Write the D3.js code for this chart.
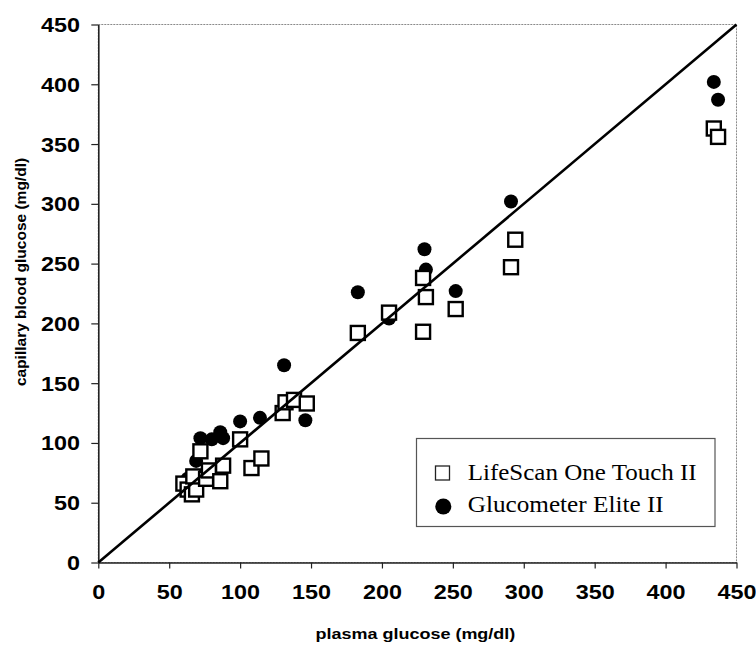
<!DOCTYPE html>
<html>
<head>
<meta charset="utf-8">
<script src="https://cdn.jsdelivr.net/npm/d3@7"></script>
<style>
  html, body { margin: 0; padding: 0; background: #fff; }
  svg { display: block; }
</style>
</head>
<body>
<svg id="chart" width="756" height="645"></svg>
<script>
// ---- data ----
const xTicks = [0, 50, 100, 150, 200, 250, 300, 350, 400, 450];
const yTicks = [0, 50, 100, 150, 200, 250, 300, 350, 400, 450];

const lifescanPlasma = [60, 63, 66, 69, 67, 72, 76, 78, 86, 88, 100, 108, 115, 130, 132, 138, 147, 183, 205, 229, 229, 231, 252, 291, 294, 434, 437];
const lifescanCapillary = [66, 61, 57, 61, 72, 93, 70, 77, 68, 81, 103, 79, 87, 125, 134, 136, 133, 192, 209, 193, 238, 222, 212, 247, 270, 363, 356];

const elitePlasma = [63, 69, 72, 80, 86, 88, 100, 114, 131, 146, 183, 205, 230, 231, 252, 291, 434, 437];
const eliteCapillary = [70, 85, 104, 103, 109, 104, 118, 121, 165, 119, 226, 204, 262, 245, 227, 302, 402, 387];

const identityLine = [0, 450];

const legendLabels = ["LifeScan One Touch II", "Glucometer Elite II"];
const xTitle = "plasma glucose (mg/dl)";
const yTitle = "capillary blood glucose (mg/dl)";

// ---- drawing ----
const svg = d3.select("#chart");
const x = d3.scaleLinear().domain([0, 450]).range([98.3, 736.5]);
const y = d3.scaleLinear().domain([0, 450]).range([562.5, 24.5]);
const SX = 1.2;

// plot border (top/right dotted gray)
svg.append("rect")
  .attr("x", x(0)).attr("y", y(450))
  .attr("width", x(450) - x(0)).attr("height", y(0) - y(450))
  .attr("fill", "none").attr("stroke", "#8a8a8a")
  .attr("stroke-width", 1).attr("stroke-dasharray", "2,1");

// axes
const gx = svg.append("g").attr("transform", `translate(0,${y(0)})`)
  .call(d3.axisBottom(x).tickValues(xTicks).tickSize(6).tickSizeOuter(0));
const gy = svg.append("g").attr("transform", `translate(${x(0)},0)`)
  .call(d3.axisLeft(y).tickValues(yTicks).tickSize(7).tickSizeOuter(0));

[gx, gy].forEach(g => {
  g.select(".domain").attr("stroke", "#222").attr("stroke-width", 1.6);
  g.selectAll(".tick line").attr("stroke", "#222").attr("stroke-width", 1.2);
  g.selectAll(".tick text")
    .attr("font-family", "'Liberation Sans', Arial, sans-serif")
    .attr("font-weight", "bold")
    .attr("font-size", 19.5)
    .attr("fill", "#000");
});
gx.selectAll(".tick text").attr("y", 36.5).attr("dy", 0)
  .attr("transform", `scale(${SX},1)`);
gy.selectAll(".tick text").attr("x", -18.3 / SX).attr("dy", "0.36em")
  .attr("transform", `scale(${SX},1)`);
gx.attr("font-size", null); gy.attr("font-size", null);

// axis titles
svg.append("text")
  .attr("transform", `translate(${(x(0) + x(450)) / 2 - 2},639) scale(${SX},1)`)
  .attr("text-anchor", "middle")
  .attr("font-family", "'Liberation Sans', Arial, sans-serif")
  .attr("font-weight", "bold").attr("font-size", 15)
  .text(xTitle);
svg.append("text")
  .attr("transform", `translate(26,272) rotate(-90)`)
  .attr("text-anchor", "middle")
  .attr("font-family", "'Liberation Sans', Arial, sans-serif")
  .attr("font-weight", "bold").attr("font-size", 15.5)
  .text(yTitle);

// Glucometer Elite II (filled circles)
svg.append("g").selectAll("circle")
  .data(d3.zip(elitePlasma, eliteCapillary))
  .join("circle")
  .attr("cx", d => x(d[0])).attr("cy", d => y(d[1]))
  .attr("r", 7).attr("fill", "#000");

// LifeScan (open squares, white filled)
const S = 14;
svg.append("g").selectAll("rect")
  .data(d3.zip(lifescanPlasma, lifescanCapillary))
  .join("rect")
  .attr("x", d => x(d[0]) - S / 2).attr("y", d => y(d[1]) - S / 2)
  .attr("width", S).attr("height", S)
  .attr("fill", "#fff").attr("stroke", "#000").attr("stroke-width", 2.4);

// identity line
svg.append("line")
  .attr("x1", x(identityLine[0])).attr("y1", y(identityLine[0]))
  .attr("x2", x(identityLine[1])).attr("y2", y(identityLine[1]))
  .attr("stroke", "#000").attr("stroke-width", 2.6);

// legend
const lg = svg.append("g");
lg.append("rect")
  .attr("x", 416.5).attr("y", 438.5).attr("width", 298.5).attr("height", 88)
  .attr("fill", "#fff").attr("stroke", "#555").attr("stroke-width", 1.2);
lg.append("rect")
  .attr("x", 435.5).attr("y", 466).attr("width", 14).attr("height", 14)
  .attr("fill", "#fff").attr("stroke", "#222").attr("stroke-width", 1.3);
lg.append("circle")
  .attr("cx", 443.3).attr("cy", 506.5).attr("r", 8).attr("fill", "#000");
const legendWidths = [229, 196];
legendLabels.forEach((t, i) => {
  lg.append("text")
    .attr("x", 467.7).attr("y", 480 + i * 31.7)
    .attr("font-family", "'Liberation Serif', 'Times New Roman', serif")
    .attr("font-size", 23)
    .attr("textLength", legendWidths[i])
    .attr("lengthAdjust", "spacingAndGlyphs")
    .text(t);
});
</script>
</body>
</html>
